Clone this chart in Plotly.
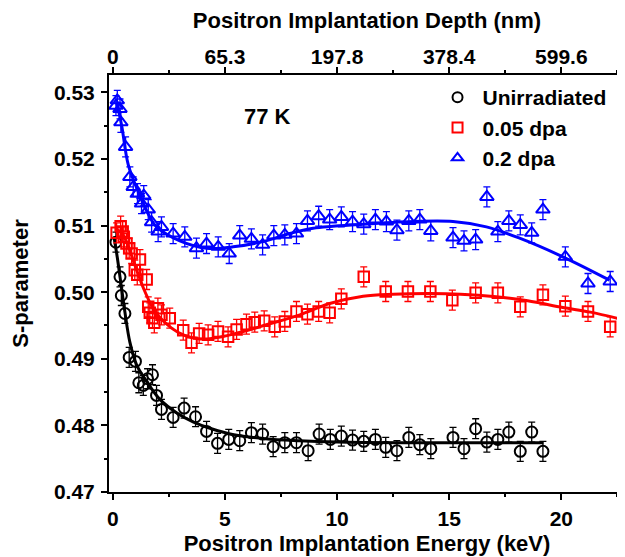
import plotly.graph_objects as go

# ---------------- data ----------------
unirr_E = [0.14, 0.32, 0.38, 0.54, 0.73, 1.01, 1.16, 1.36, 1.55, 1.77, 1.95, 2.17, 2.69, 3.18, 3.69,
           4.18, 4.67, 5.17, 5.66, 6.18, 6.68, 7.15, 7.67, 8.19, 8.71, 9.20, 9.70, 10.19, 10.69, 11.19,
           11.71, 12.17, 12.67, 13.20, 13.69, 14.18, 15.17, 15.66, 16.18, 16.68, 17.17, 17.66, 18.17,
           18.68, 19.18]
unirr_S = [0.5075, 0.5023, 0.4995, 0.4968, 0.4902, 0.4896, 0.4864, 0.4860, 0.4870, 0.4876, 0.4845,
           0.4824, 0.4812, 0.4826, 0.4813, 0.4791, 0.4773, 0.4779, 0.4777, 0.4789, 0.4787, 0.4768,
           0.4774, 0.4774, 0.4762, 0.4787, 0.4779, 0.4784, 0.4778, 0.4776, 0.4779, 0.4767, 0.4762,
           0.4782, 0.4771, 0.4765, 0.4782, 0.4765, 0.4795, 0.4775, 0.4779, 0.4790, 0.4761, 0.4790,
           0.4761]

dpa005_E = [0.17, 0.35, 0.44, 0.49, 0.61, 0.73, 0.84, 0.98, 1.09, 1.21, 1.51, 1.58, 1.65, 1.77, 1.85,
            2.01, 2.17, 2.54, 3.14, 3.51, 3.85, 4.25, 4.69, 5.14, 5.52, 5.96, 6.33, 6.75, 7.22, 7.67,
            8.19, 8.68, 9.18, 9.67, 10.19, 11.19, 12.17, 13.16, 14.16, 15.14, 16.18, 17.17, 18.17,
            19.18, 20.18, 21.19, 22.18]
dpa005_S = [0.5089, 0.5099, 0.5091, 0.5083, 0.5073, 0.5066, 0.5058, 0.5033, 0.5026, 0.5049, 0.5019,
            0.4978, 0.4969, 0.4961, 0.4954, 0.4976, 0.4966, 0.4961, 0.4943, 0.4924, 0.4938, 0.4936,
            0.4941, 0.4933, 0.4944, 0.4952, 0.4955, 0.4957, 0.4948, 0.4956, 0.4971, 0.4967, 0.4971,
            0.4969, 0.4990, 0.5023, 0.5001, 0.5001, 0.5001, 0.4988, 0.4999, 0.4999, 0.4978, 0.4996,
            0.4979, 0.4971, 0.4948]

dpa02_E = [0.14, 0.20, 0.32, 0.36, 0.57, 0.76, 0.91, 1.10, 1.38, 1.28, 1.58, 1.73, 2.02, 2.17, 2.69,
           3.21, 3.73, 4.18, 4.70, 5.19, 5.66, 6.18, 6.68, 7.18, 7.67, 8.19, 8.68, 9.18, 9.67, 10.19,
           10.69, 11.19, 11.71, 12.20, 12.67, 13.20, 13.69, 14.18, 15.17, 15.66, 16.18, 16.68, 17.17,
           17.66, 18.17, 18.68, 19.18, 20.18, 21.19, 22.18]
dpa02_S = [0.5280, 0.5288, 0.5275, 0.5255, 0.5218, 0.5173, 0.5158, 0.5148, 0.5145, 0.5133, 0.5124,
           0.5105, 0.5091, 0.5098, 0.5088, 0.5083, 0.5066, 0.5073, 0.5068, 0.5058, 0.5085, 0.5080,
           0.5071, 0.5085, 0.5086, 0.5088, 0.5107, 0.5114, 0.5109, 0.5113, 0.5106, 0.5102, 0.5109,
           0.5106, 0.5093, 0.5107, 0.5109, 0.5092, 0.5082, 0.5077, 0.5079, 0.5143, 0.5091, 0.5107,
           0.5101, 0.5089, 0.5124, 0.5053, 0.5013, 0.5016]

err_S = 0.0015

# fitted curves
fit_unirr_E = [0.05, 0.20, 0.32, 0.54, 0.76, 1.06, 1.51, 2.10, 2.84, 3.60, 4.40, 5.40, 6.80, 8.30,
               10.0, 13.0, 16.0, 19.2]
fit_unirr_S = [0.5083, 0.5052, 0.5023, 0.4970, 0.4925, 0.4891, 0.4866, 0.4839, 0.4819, 0.4805,
               0.4795, 0.4786, 0.4780, 0.4777, 0.4775, 0.4774, 0.4774, 0.4774]
fit_005_E = [0.15, 0.30, 0.54, 0.98, 1.43, 1.88, 2.62, 3.20, 3.80, 4.50, 5.37, 6.85, 8.34, 9.67,
             11.16, 12.5, 14.13, 15.5, 17.1, 18.5, 20.07, 21.3, 22.84]
fit_005_S = [0.5093, 0.5092, 0.5081, 0.5041, 0.5001, 0.4971, 0.4946, 0.4935, 0.4930, 0.4931,
             0.4937, 0.4951, 0.4966, 0.4983, 0.4994, 0.4997, 0.4998, 0.4997, 0.4993, 0.4987,
             0.4977, 0.4970, 0.4958]
fit_02_E = [0.17, 0.39, 0.69, 1.13, 1.73, 1.95, 2.99, 4.18, 5.37, 6.70, 7.89, 8.93, 11.16, 13.39,
            15.17, 16.66, 18.14, 20.07, 22.15]
fit_02_S = [0.5285, 0.5251, 0.5191, 0.5151, 0.5108, 0.5098, 0.5077, 0.5066, 0.5068, 0.5076,
            0.5088, 0.5096, 0.5102, 0.5106, 0.5106, 0.5098, 0.5081, 0.5053, 0.5018]

bottom_ticks = [0, 5, 10, 15, 20]
top_tick_labels = ["0", "65.3", "197.8", "378.4", "599.6"]
series_names = ["Unirradiated", "0.05 dpa", "0.2 dpa"]
colors = ["black", "#ff0000", "#0000ff"]
symbols = ["circle-open", "square-open", "triangle-up-open"]

FONT = "Liberation Sans, Arial, sans-serif"
BFONT = dict(family=FONT, size=22, color="black", weight="bold")
TFONT = dict(family=FONT, size=21, color="black", weight="bold")
LFONT = dict(family=FONT, size=21, color="black", weight="bold")

fig = go.Figure()

fits = [(fit_unirr_E, fit_unirr_S), (fit_005_E, fit_005_S), (fit_02_E, fit_02_S)]
pts = [(unirr_E, unirr_S), (dpa005_E, dpa005_S), (dpa02_E, dpa02_S)]
sizes = [11, 10.5, 12]

for (fx, fy), c in zip(fits, colors):
    fig.add_trace(go.Scatter(x=fx, y=fy, mode="lines", line=dict(color=c, width=3, shape="spline",
                                                               smoothing=1.0),
                             showlegend=False, hoverinfo="skip"))

for (px, py), c, s, sz in zip(pts, colors, symbols, sizes):
    fig.add_trace(go.Scatter(x=px, y=py, mode="markers",
                             marker=dict(symbol=s, size=sz, color=c, line=dict(width=2, color=c)),
                             error_y=dict(type="constant", value=err_S, color=c, thickness=1.3,
                                          width=3.5),
                             showlegend=False))

for name, c, s in zip(series_names, colors, symbols):
    fig.add_trace(go.Scatter(x=[None], y=[None], mode="markers", name=name,
                             marker=dict(symbol=s, size=10, color=c, line=dict(width=2, color=c))))

# invisible traces for the top axes
for ax in ["x2", "x3"]:
    fig.add_trace(go.Scatter(x=[bottom_ticks[0]], y=[None], xaxis=ax, mode="markers",
                             showlegend=False, hoverinfo="skip"))

xr = [-0.17, 22.84]
axis_common = dict(showgrid=False, zeroline=False, showline=True, linecolor="black", linewidth=2,
                   ticks="outside", ticklen=6, tickwidth=2, tickcolor="black",
                   tickfont=TFONT, automargin=False)
minor_x = dict(dtick=2.5, tick0=0, ticklen=3, tickwidth=1.5, tickcolor="black", ticks="outside")

top_labels_axis = dict(axis_common)
top_labels_axis["ticks"] = ""

# the page body has an 8px margin: compensate in the figure margins
fig.update_layout(
    width=625, height=557,
    margin=dict(l=101, r=8, t=67, b=73, autoexpand=False),
    plot_bgcolor="white", paper_bgcolor="white",
    font=BFONT,
    xaxis=dict(range=xr, tickvals=bottom_ticks, **axis_common, minor=minor_x,
               ticklabelstandoff=1,
               title=dict(text="Positron Implantation Energy (keV)", standoff=6, font=BFONT)),
    # top axis: labels (depth) and title
    xaxis2=dict(range=xr, overlaying="x", side="top", anchor="y", tickvals=bottom_ticks,
                ticktext=top_tick_labels, **top_labels_axis, ticklabelstandoff=1,
                title=dict(text="Positron Implantation Depth (nm)", standoff=13, font=BFONT)),
    # top axis: outward tick marks only
    xaxis3=dict(range=xr, overlaying="x", side="top", anchor="y", tickvals=bottom_ticks,
                showticklabels=False, **axis_common, minor=minor_x),
    yaxis=dict(range=[0.47, 0.5326], dtick=0.01, tick0=0.47, tickformat=".2f", **axis_common,
               minor=dict(dtick=0.005, tick0=0.47, ticklen=3, tickwidth=1.5, tickcolor="black",
                          ticks="outside"),
               ticklabelstandoff=2,
               title=dict(text="S-parameter", standoff=20, font=BFONT)),
    legend=dict(x=0.627, y=0.995, xanchor="left", yanchor="top", bgcolor="rgba(0,0,0,0)",
                font=LFONT, itemwidth=40, tracegroupgap=0),
    showlegend=True,
)

fig.add_annotation(x=6.9, y=0.5263, text="77 K", showarrow=False, font=BFONT)

fig.write_html("out.html")
